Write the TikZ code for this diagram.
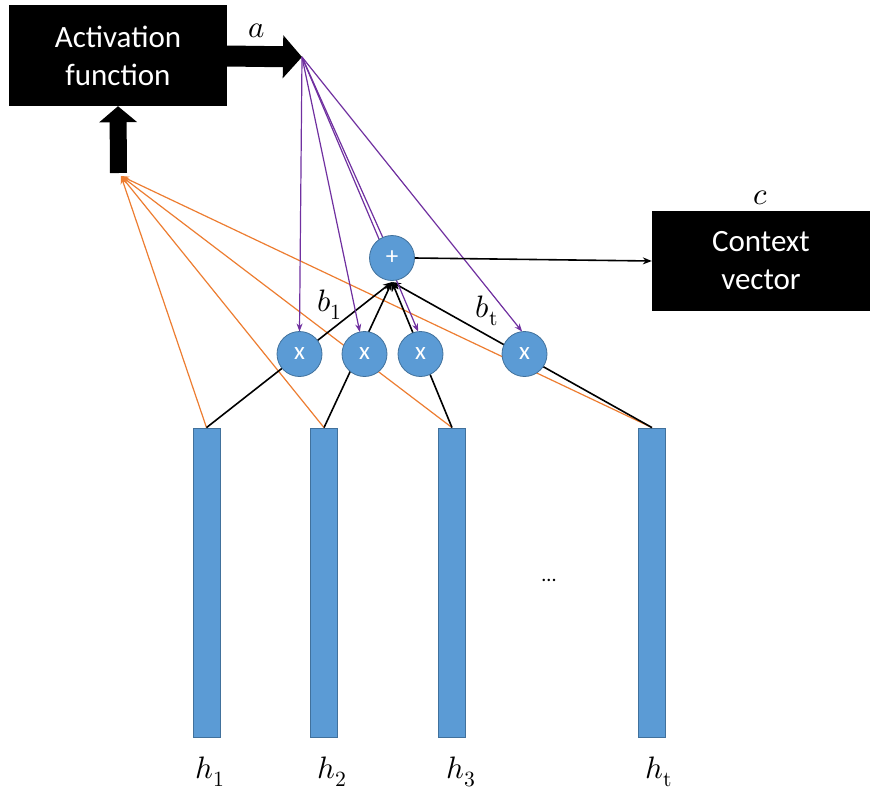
\documentclass[tikz,border=0pt]{standalone}
\usepackage{fontspec}
\usepackage{unicode-math}
\setmainfont{Carlito}
\setmathfont{Latin Modern Math}
\usetikzlibrary{arrows.meta,calc}
\definecolor{barblue}{RGB}{91,155,213}
\definecolor{baredge}{RGB}{65,113,156}
\definecolor{lineorange}{RGB}{237,125,49}
\definecolor{linepurple}{RGB}{112,48,160}
\tikzset{
  blackbox/.style={fill=black, text=white, align=center, inner sep=0pt,
    font=\fontsize{31}{38}\selectfont},
  hbar/.style={fill=barblue, draw=baredge, line width=0.8pt, minimum width=27pt, minimum height=309pt, inner sep=0pt},
  opnode/.style={circle, fill=barblue, draw=baredge, line width=0.8pt, minimum size=45pt, inner sep=0pt, text=white, font=\fontsize{25}{25}\selectfont},
  mathlbl/.style={font=\fontsize{31}{32}\selectfont, inner sep=0pt},
  orangeline/.style={draw=lineorange, line width=1.2pt, -{Stealth[length=8pt,width=6pt]}},
  purpleline/.style={draw=linepurple, line width=1.2pt, -{Stealth[length=8pt,width=6pt]}},
  blackline/.style={draw=black, line width=1.6pt, -{Stealth[length=9pt,width=7pt]}},
}
\begin{document}
\begin{tikzpicture}[x=1pt,y=-1pt]
\path[use as bounding box, fill=white] (0,0) rectangle (880,798);

% boxes
\node[blackbox, minimum width=218pt, minimum height=101pt] (act) at (118,55.5) {Activation\\function};
\node[blackbox, minimum width=218pt, minimum height=100pt] (ctx) at (761,261) {Context\\vector};

% bars
\node[hbar] (h1) at (206.5,582.5) {};
\node[hbar] (h2) at (324,582.5) {};
\node[hbar] (h3) at (452,582.5) {};
\node[hbar] (ht) at (652,582.5) {};

% coordinates
\coordinate (apex) at (302,57);
\coordinate (oapex) at (121,176);
\coordinate (upbase) at (118.5,173);
\coordinate (rbase) at (227,56);
\coordinate (plusc) at (392,258);
\coordinate (x1c) at (299.5,354);
\coordinate (x2c) at (364.5,354);
\coordinate (x3c) at (420.5,354);
\coordinate (x4c) at (524.5,354);

% thick arrows
\draw[line width=21pt, -{Triangle[length=19pt,width=42pt]}] (rbase) -- (apex);
\draw[line width=17pt, -{Triangle[length=16pt,width=37pt]}] (upbase) -- (act.south);

% orange lines
\draw[orangeline] (h1.north) -- (oapex);
\draw[orangeline] (h2.north) -- (oapex);
\draw[orangeline] (h3.north) -- (oapex);
\draw[orangeline] (ht.north) -- (oapex);

% black lines into the sum
\draw[blackline] (h1.north) -- ($(plusc)+(0,24)$) coordinate (pin);
\draw[blackline] (h2.north) -- (pin);
\draw[blackline] (h3.north) -- (pin);
\draw[blackline] (ht.north) -- (pin);

% purple lines (drawn under the circles)
\draw[purpleline] (apex) -- ($(x1c)+(0,-22.5)$);
\draw[purpleline] (apex) -- ($(x2c)+(-102:22.5)$);
\draw[purpleline] (apex) -- ($(x3c)+(-96:22.5)$);
\draw[purpleline] (apex) -- ($(x4c)+(-96:22.5)$);
\draw[draw=linepurple, line width=1.2pt] (apex) -- (plusc);

% operator nodes
\node[opnode] (x1) at (x1c) {x};
\node[opnode] (x2) at (x2c) {x};
\node[opnode] (x3) at (x3c) {x};
\node[opnode] (x4) at (x4c) {x};
\node[opnode] (plus) at (plusc) {+};

% plus to context
\draw[blackline] (plus.east) -- (ctx.west);

% labels
\node[mathlbl] (la) at (257,31) {$a$};
\node[mathlbl] (lc) at (761,198) {$c$};
\node[mathlbl] (lb1) at (330,305) {$b_1$};
\node[mathlbl] (lbt) at (487,311) {$b_{\symup{t}}$};
\node[mathlbl] (l1) at (210,772) {$h_1$};
\node[mathlbl] (l2) at (332,772) {$h_2$};
\node[mathlbl] (l3) at (461,772) {$h_3$};
\node[mathlbl] (l4) at (659,772) {$h_{\symup{t}}$};
\node[font=\fontsize{20}{20}\selectfont, inner sep=0pt] (dots) at (549,580) {...};
\end{tikzpicture}
\end{document}
